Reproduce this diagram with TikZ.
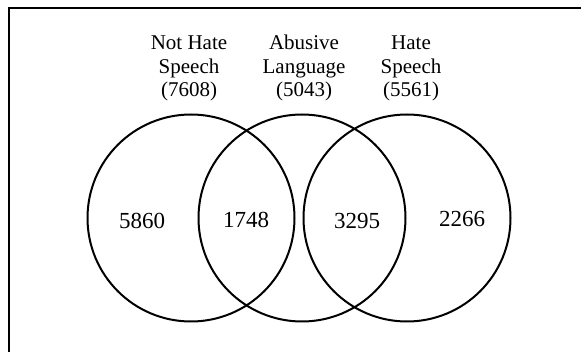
\documentclass[tikz,border=0pt]{standalone}
\usepackage{fontspec}
\setmainfont{Liberation Serif}
\usetikzlibrary{positioning}
\tikzset{
  setcirc/.style={draw,circle,line width=2pt,minimum size=207pt,inner sep=0pt},
  setlbl/.style={align=center,inner sep=0pt,font=\fontsize{21}{23.5}\selectfont},
  cntlbl/.style={anchor=base,inner sep=0pt,font=\fontsize{23}{26}\selectfont},
  frameline/.style={line width=2.8pt}
}
\begin{document}
\begin{tikzpicture}[x=1pt,y=-1pt]
  \useasboundingbox (0,0) rectangle (581,352);
  \draw[frameline] (9,352) -- (9,8) -- (581,8);

  \node[setcirc] (nhs) at (191,218) {};
  \node[setcirc] (abl) at (302,218) {};
  \node[setcirc] (hts) at (407,218) {};

  \node[setlbl, above=12pt of nhs, xshift=-2pt] (nhslbl) {Not Hate\\Speech\\(7608)};
  \node[setlbl, above=12pt of abl, xshift=2pt] (abllbl) {Abusive\\Language\\(5043)};
  \node[setlbl, above=12pt of hts, xshift=4pt] (htslbl) {Hate\\Speech\\(5561)};

  \node[cntlbl] (only1) at (142,229) {5860};
  \node[cntlbl] (both12) at (246,228) {1748};
  \node[cntlbl] (both23) at (357,229) {3295};
  \node[cntlbl] (only3) at (462,227) {2266};
\end{tikzpicture}
\end{document}
